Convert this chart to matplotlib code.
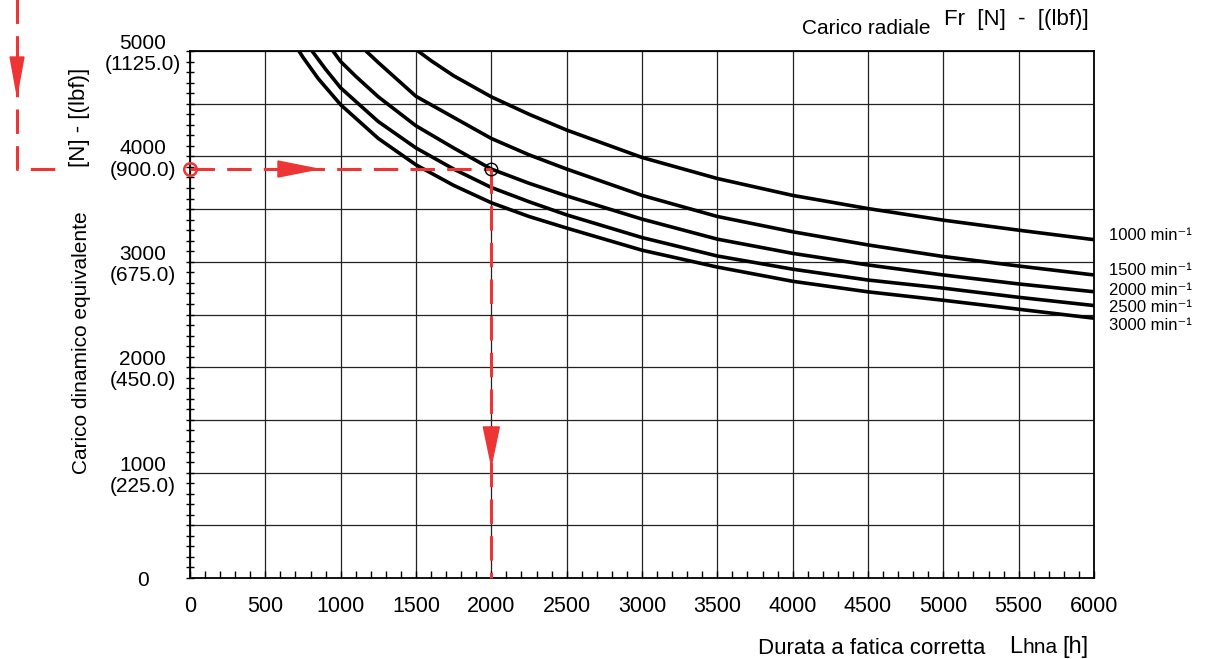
import matplotlib.pyplot as plt
from matplotlib.patches import Polygon

x_1000 = [1513, 1600, 1750, 2000, 2250, 2500, 3000, 3500, 4000, 4500, 5000, 5500, 6000]
y_1000 = [5000, 4908, 4765, 4565, 4400, 4250, 3990, 3790, 3630, 3505, 3395, 3300, 3210]

x_1500 = [1168, 1250, 1375, 1500, 1750, 2000, 2250, 2500, 3000, 3500, 4000, 4500, 5000, 5500, 6000]
y_1500 = [5000, 4890, 4730, 4570, 4370, 4170, 4015, 3880, 3630, 3430, 3285, 3160, 3050, 2960, 2875]

x_2000 = [949, 1000, 1100, 1250, 1500, 1750, 2000, 2250, 2500, 3000, 3500, 4000, 4500, 5000, 5500, 6000]
y_2000 = [5000, 4900, 4760, 4565, 4290, 4080, 3880, 3745, 3625, 3405, 3215, 3080, 2970, 2875, 2790, 2716]

x_2500 = [810, 900, 1000, 1250, 1500, 1750, 2000, 2250, 2500, 3000, 3500, 4000, 4500, 5000, 5500, 6000]
y_2500 = [5000, 4827, 4650, 4330, 4080, 3880, 3705, 3570, 3445, 3230, 3055, 2930, 2827, 2750, 2663, 2585]

x_3000 = [723, 750, 850, 1000, 1250, 1500, 1750, 2000, 2250, 2500, 3000, 3500, 4000, 4500, 5000, 5500, 6000]
y_3000 = [5000, 4940, 4740, 4490, 4170, 3920, 3725, 3560, 3430, 3320, 3110, 2950, 2815, 2715, 2635, 2550, 2465]

etichette = ['1000 min⁻¹', '1500 min⁻¹', '2000 min⁻¹', '2500 min⁻¹', '3000 min⁻¹']
y_etichette = [3245, 2922, 2732, 2571, 2400]

y_ticks = [0, 1000, 2000, 3000, 4000, 5000]
y_labels = ['0', '1000\n(225.0)', '2000\n(450.0)', '3000\n(675.0)', '4000\n(900.0)', '5000\n(1125.0)']
x_ticks = list(range(0, 6001, 500))

# esempio di lettura
durata_es = 2000
carico_es = 3880

narrow = ['Liberation Sans', 'DejaVu Sans']
helv = 'Liberation Sans'
rosso = '#ee3535'

fig = plt.figure(figsize=(12.08, 6.59), dpi=100)
ax = fig.add_axes([190 / 1208, 81 / 659, 904 / 1208, 527 / 659])
ax.set_xlim(0, 6000)
ax.set_ylim(0, 5000)

# griglia
ax.set_xticks(x_ticks)
ax.set_xticks(range(0, 6001, 100), minor=True)
ax.set_yticks(range(0, 5001, 500))
ax.set_yticks(range(0, 5001, 100), minor=True)
ax.grid(True, which='major', color='#222222', linewidth=0.9)
ax.set_axisbelow(True)

ax.set_xticklabels([str(v) for v in x_ticks], fontfamily=narrow, fontsize=15.5)
ylab = []
for v in range(0, 5001, 500):
    ylab.append(y_labels[y_ticks.index(v)] if v in y_ticks else '')
ax.set_yticklabels(ylab, fontfamily=narrow, fontsize=15, linespacing=1.15)
for t in ax.get_yticklabels():
    t.set_ha('center')
    t.set_multialignment('center')

ax.tick_params(axis='x', which='both', direction='in', length=5, width=1, pad=13)
ax.tick_params(axis='y', which='both', direction='inout', length=6, width=1, pad=31)
for s in ax.spines.values():
    s.set_linewidth(1.3)

# curve
for xs, ys in [(x_1000, y_1000), (x_1500, y_1500), (x_2000, y_2000), (x_2500, y_2500), (x_3000, y_3000)]:
    ax.plot(xs, ys, color='black', linewidth=2.6, solid_capstyle='butt', solid_joinstyle='round', zorder=3)

for txt, yy in zip(etichette, y_etichette):
    ax.text(6100, yy, txt, fontfamily=narrow, fontsize=12, va='center', ha='left', clip_on=False)

# linee di esempio in rosso
stile = dict(color=rosso, linewidth=2.2, dashes=(8, 4), clip_on=False, zorder=4)
ax.plot([0, durata_es], [carico_es, carico_es], **stile)
ax.plot([durata_es, durata_es], [carico_es, 0], **stile)
ax.plot([-1148, -1148, -896], [5490, carico_es, carico_es], **stile)

ax.plot([0], [carico_es], 'o', mfc='none', mec=rosso, mew=1.8, ms=9, clip_on=False, zorder=5)
ax.plot([durata_es], [carico_es], 'o', mfc='none', mec='black', mew=1.0, ms=9, zorder=5)

ax.add_patch(Polygon([[584, carico_es - 76], [584, carico_es + 76], [850, carico_es]],
                     closed=True, color=rosso, zorder=5))
ax.add_patch(Polygon([[durata_es - 53, 1433], [durata_es + 53, 1433], [durata_es, 1072]],
                     closed=True, color=rosso, zorder=5))
ax.add_patch(Polygon([[-1194, 4943], [-1102, 4943], [-1148, 4583]],
                     closed=True, color=rosso, zorder=5, clip_on=False))

# titoli assi
fig.text(82 / 1208, 1 - 343 / 659, 'Carico dinamico equivalente', rotation=90,
         fontfamily=helv, fontsize=15, ha='center', va='center')
fig.text(80 / 1208, 1 - 117 / 659, '[N] - [(lbf)]', rotation=90,
         fontfamily=narrow, fontsize=16, ha='center', va='center')
fig.text(930 / 1208, 1 - 28 / 659, 'Carico radiale', fontfamily=helv, fontsize=15,
         ha='right', va='center')
fig.text(944 / 1208, 1 - 19 / 659, 'Fr  [N]  -  [(lbf)]', fontfamily=narrow, fontsize=16,
         ha='left', va='center')
fig.text(985 / 1208, 1 - 648 / 659, 'Durata a fatica corretta', fontfamily=helv, fontsize=16,
         ha='right', va='center')
fig.text(1009 / 1208, 1 - 653 / 659, 'L', fontfamily=narrow, fontsize=17, ha='left', va='baseline')
fig.text(1022 / 1208, 1 - 653 / 659, 'hna', fontfamily=narrow, fontsize=15, ha='left', va='baseline')
fig.text(1062 / 1208, 1 - 653 / 659, '[h]', fontfamily=narrow, fontsize=17, ha='left', va='baseline')

plt.savefig('out.png', dpi=100)
